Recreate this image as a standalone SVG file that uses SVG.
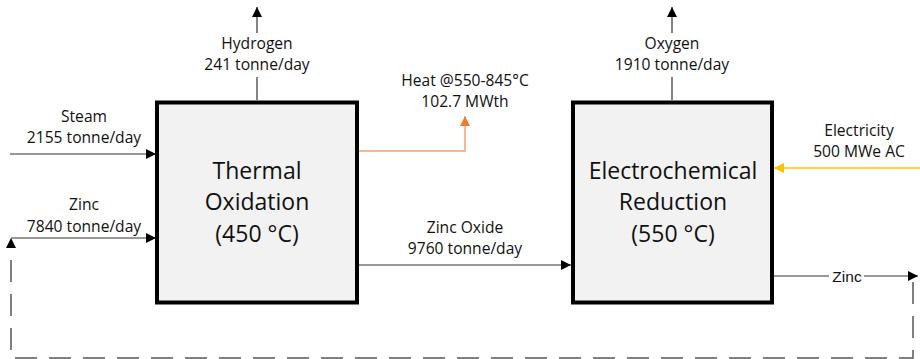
<svg xmlns="http://www.w3.org/2000/svg" width="920" height="359" viewBox="0 0 920 359">
<defs>
<style>
.box{fill:#f2f2f2;stroke:#000;stroke-width:4}
.t{font-family:"Open Sans","Liberation Sans",sans-serif;font-size:15.6px;fill:#111;text-anchor:middle}
.t2{font-family:"Liberation Sans",sans-serif;font-size:15.5px;fill:#111;text-anchor:middle}
.big{font-family:"Open Sans","Liberation Sans",sans-serif;font-size:23px;fill:#111;text-anchor:middle}
.ln{fill:none;stroke:#333;stroke-width:1.2}
.dash{fill:none;stroke:#555;stroke-width:1.5;stroke-dasharray:22 12}
.heat{fill:none;stroke:#F4A26E;stroke-width:1.5}
.elec{fill:none;stroke:#FFC000;stroke-width:1.5}
</style>
<marker id="ab" markerUnits="userSpaceOnUse" markerWidth="10" markerHeight="10" viewBox="0 0 10 10" refX="10" refY="5" orient="auto"><path d="M0,0 L10,5 L0,10 z" fill="#000"/></marker>
<marker id="ao" markerUnits="userSpaceOnUse" markerWidth="10" markerHeight="10" viewBox="0 0 10 10" refX="10" refY="5" orient="auto"><path d="M0,0 L10,5 L0,10 z" fill="#ED7D31"/></marker>
<marker id="ay" markerUnits="userSpaceOnUse" markerWidth="10" markerHeight="10" viewBox="0 0 10 10" refX="10" refY="5" orient="auto"><path d="M0,0 L10,5 L0,10 z" fill="#FFC000"/></marker>
</defs>
<rect width="920" height="359" fill="#fff"/>
<g id="connectors">
<line class="ln" x1="257" y1="100" x2="257" y2="77"/>
<line class="ln" x1="257" y1="33" x2="257" y2="7" marker-end="url(#ab)"/>
<line class="ln" x1="672" y1="100" x2="672" y2="77"/>
<line class="ln" x1="672" y1="33" x2="672" y2="7" marker-end="url(#ab)"/>
<line class="ln" x1="10" y1="154" x2="156" y2="154" marker-end="url(#ab)"/>
<line class="ln" x1="11" y1="238" x2="156" y2="238" marker-end="url(#ab)"/>
<line class="ln" x1="359" y1="265" x2="571" y2="265" marker-end="url(#ab)"/>
<line class="ln" x1="774" y1="276" x2="829" y2="276"/>
<line class="ln" x1="864" y1="276" x2="918" y2="276" marker-end="url(#ab)"/>
<path class="dash" d="M913,282 V358 H11 V240"/>
<path d="M6,248 L11,238 L16,248 z" fill="#000"/>
<path class="heat" d="M359,151 H465 V116" marker-end="url(#ao)"/>
<line class="elec" x1="920" y1="168" x2="774" y2="168" marker-end="url(#ay)"/>
</g>
<g id="thermal-oxidation">
<rect class="box" x="157" y="102.5" width="200" height="200"/>
<text class="big" x="257" y="179">Thermal</text>
<text class="big" x="257" y="210">Oxidation</text>
<text class="big" x="257" y="242">(450 °C)</text>
</g>
<g id="electrochemical-reduction">
<rect class="box" x="573" y="102.5" width="199" height="200"/>
<text class="big" x="673" y="179">Electrochemical</text>
<text class="big" x="673" y="210">Reduction</text>
<text class="big" x="673" y="242">(550 °C)</text>
</g>
<g id="labels">
<text class="t" x="257" y="49">Hydrogen</text>
<text class="t" x="257" y="70">241 tonne/day</text>
<text class="t" x="672" y="49">Oxygen</text>
<text class="t" x="672" y="70">1910 tonne/day</text>
<text class="t" x="84" y="122">Steam</text>
<text class="t" x="84" y="143">2155 tonne/day</text>
<text class="t" x="84" y="210">Zinc</text>
<text class="t" x="84" y="232">7840 tonne/day</text>
<text class="t" x="465" y="86">Heat @550-845°C</text>
<text class="t" x="465" y="107">102.7 MWth</text>
<text class="t" x="859" y="136">Electricity</text>
<text class="t" x="859" y="157">500 MWe AC</text>
<text class="t" x="465" y="233">Zinc Oxide</text>
<text class="t" x="465" y="254">9760 tonne/day</text>
<text class="t2" x="847" y="281.5">Zinc</text>
</g>
</svg>
